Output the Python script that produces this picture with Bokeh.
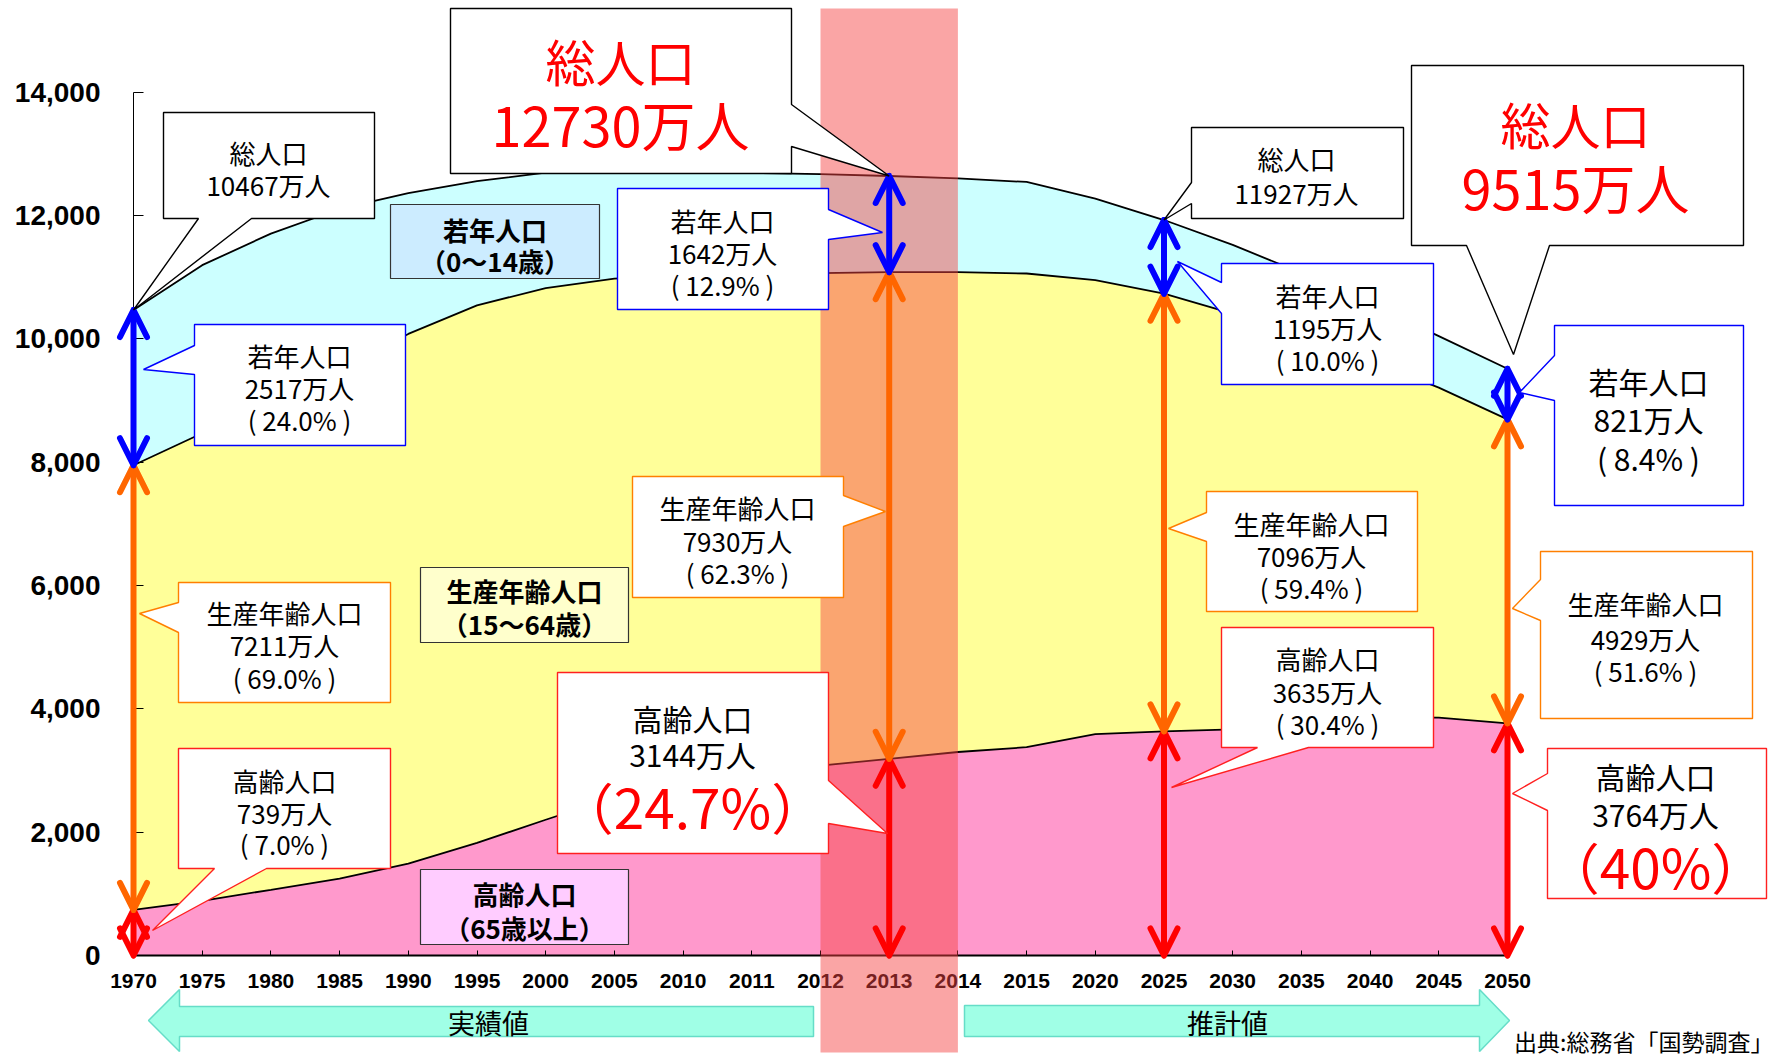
from bokeh.plotting import figure
from bokeh.models import (Range1d, FixedTicker, NumeralTickFormatter, Arrow, OpenHead,
                          BoxAnnotation, ColumnDataSource)
from bokeh.core.properties import value
from bokeh.embed import file_html
from bokeh.resources import INLINE

# ---------------- data (万人) ----------------
years = ["1970", "1975", "1980", "1985", "1990", "1995", "2000", "2005", "2010", "2011",
         "2012", "2013", "2014", "2015", "2020", "2025", "2030", "2035", "2040", "2045", "2050"]
aged = [739, 887, 1065, 1247, 1489, 1826, 2201, 2567, 2925, 2975,
        3079, 3190, 3300, 3378, 3590, 3635, 3667, 3725, 3863, 3856, 3764]
working = [7211, 7581, 7883, 8251, 8590, 8716, 8622, 8409, 8103, 8070,
           7985, 7890, 7780, 7681, 7363, 7096, 6740, 6292, 5787, 5353, 4929]
young = [2517, 2726, 2758, 2607, 2282, 2015, 1870, 1724, 1672, 1645,
         1606, 1560, 1520, 1484, 1321, 1195, 1115, 1051, 920, 835, 821]
y_ticks = [0, 2000, 4000, 6000, 8000, 10000, 12000, 14000]
highlight_year = "2013"
arrow_years = ["1970", "2013", "2025", "2050"]

FONT = "Noto Sans CJK JP"
LATIN = "Liberation Sans"

# ---------------- layout helpers (page pixel -> data) ----------------
W, H = 1779, 1060
X0, DX, Y0, KY = 133.0, 68.7, 955.0, 0.06167


def dx(px):
    return (px - X0) / DX


def dy(py):
    return (Y0 - py) / KY


def page_pt(i, v):
    return (X0 + i * DX, Y0 - v * KY)


n = len(years)
xs = list(range(n))
bound = [a + w for a, w in zip(aged, working)]
total = [b + y for b, y in zip(bound, young)]

src = ColumnDataSource(dict(x=xs, aged=aged, working=working, young=young))

p = figure(width=W, height=H,
           x_range=Range1d(dx(0), dx(W)), y_range=Range1d(dy(H), dy(0)),
           output_backend="svg", toolbar_location=None, min_border=0)
p.title.visible = False
p.outline_line_color = None
p.background_fill_color = "white"
p.border_fill_color = "white"
p.xgrid.visible = False
p.ygrid.visible = False

# stacked areas + boundary lines
p.varea_stack(["aged", "working", "young"], x="x", source=src,
              color=["#FF99CC", "#FFFF99", "#CCFFFF"])
p.vline_stack(["aged", "working", "young"], x="x", source=src,
              line_color="black", line_width=1.8)

# axes (drawn at data zero)
xa = p.xaxis[0]
xa.fixed_location = 0
xa.bounds = (0, n - 1)
xa.ticker = FixedTicker(ticks=xs)
xa.major_label_overrides = {i: y for i, y in enumerate(years)}
xa.major_label_text_font = LATIN
xa.major_label_text_font_style = "bold"
xa.major_label_text_font_size = "21px"
xa.major_label_text_color = "black"
xa.major_label_standoff = 18
xa.axis_line_width = 2
xa.axis_line_color = "black"
xa.major_tick_in = 5
xa.major_tick_out = 0
xa.minor_tick_line_color = None

ya = p.yaxis[0]
ya.fixed_location = 0
ya.bounds = (0, 14000)
ya.ticker = FixedTicker(ticks=y_ticks)
ya.formatter = NumeralTickFormatter(format="0,0")
ya.major_label_text_font = LATIN
ya.major_label_text_font_style = "bold"
ya.major_label_text_font_size = "28px"
ya.major_label_text_color = "black"
ya.major_label_standoff = 33
ya.axis_line_color = "black"
ya.axis_line_width = 1
ya.major_tick_in = 10
ya.major_tick_out = 0
ya.minor_tick_line_color = None

# highlighted year band
hi = years.index(highlight_year)
p.add_layout(BoxAnnotation(left=hi - 1, right=hi + 1, top=dy(8), bottom=dy(1052),
                           fill_color="#F54343", fill_alpha=0.48,
                           line_color=None, level="annotation"))

# double-headed arrows
ai = [years.index(y) for y in arrow_years]


def arrows(lo, hi_, color):
    s = ColumnDataSource(dict(x=[i for i in ai], y0=[lo[i] for i in ai], y1=[hi_[i] for i in ai]))
    head = dict(size=27, line_color=color, line_width=6, line_cap="round", line_join="round")
    p.add_layout(Arrow(x_start="x", y_start="y0", x_end="x", y_end="y1", source=s,
                       line_color=color, line_width=6, line_cap="round",
                       start=OpenHead(**head), end=OpenHead(**head), level="annotation"))


arrows([0] * n, aged, "#FF0000")
arrows(aged, bound, "#FF6600")
arrows(bound, total, "#0000FF")


# ---------------- callouts ----------------
def callout(box, edge, w1, w2, tip, color, lines, lw=1.4):
    l, t, r, b = box
    if edge == "left":
        pts = [(l, t), (r, t), (r, b), (l, b), (l, w2), tip, (l, w1)]
    elif edge == "right":
        pts = [(l, t), (r, t), (r, w1), tip, (r, w2), (r, b), (l, b)]
    else:  # bottom
        pts = [(l, t), (r, t), (r, b), (w2, b), tip, (w1, b), (l, b)]
    p.patch([dx(q[0]) for q in pts], [dy(q[1]) for q in pts], fill_color="white",
            line_color=color, line_width=lw, level="overlay")
    for cx, cy, txt, size, col in lines:
        p.text(x=[dx(cx)], y=[dy(cy)], text=[txt], text_font=value(FONT),
               text_font_size=f"{size}px", text_color=col, text_align="center",
               text_baseline="middle", level="overlay")


BLK, BLU, ORG, RED = "#000000", "#0000FF", "#FF7F00", "#FF2020"
S = 26
i70, i13, i25, i50 = ai

callout((163, 112, 374, 218), "bottom", 198, 251, page_pt(i70, total[i70]), BLK,
        [(268, 152, "総人口", S, "black"), (268, 184, "10467万人", S, "black")])
callout((194, 324, 405, 445), "left", 345, 374, (143, 369), BLU,
        [(299, 355, "若年人口", S, "black"), (299, 387, "2517万人", S, "black"),
         (299, 419, "( 24.0% )", S, "black")])
callout((178, 582, 390, 702), "left", 602, 632, (139, 613), ORG,
        [(284, 612, "生産年齢人口", S, "black"), (284, 644, "7211万人", S, "black"),
         (284, 677, "( 69.0% )", S, "black")])
callout((178, 748, 390, 868), "bottom", 214, 266, (152, 930), RED,
        [(284, 780, "高齢人口", S, "black"), (284, 812, "739万人", S, "black"),
         (284, 843, "( 7.0% )", S, "black")])

callout((450, 8, 791, 173), "right", 104, 146, page_pt(i13, total[i13]), BLK,
        [(620, 59, "総人口", 50, "#FF0000"), (620, 123, "12730万人", 54, "#FF0000")])
callout((617, 188, 828, 309), "right", 209, 239, (882, 232), BLU,
        [(722, 220, "若年人口", S, "black"), (722, 252, "1642万人", S, "black"),
         (722, 284, "( 12.9% )", S, "black")])
callout((632, 476, 843, 597), "right", 495, 526, (885, 511), ORG,
        [(737, 507, "生産年齢人口", S, "black"), (737, 540, "7930万人", S, "black"),
         (737, 572, "( 62.3% )", S, "black")])
callout((557, 672, 828, 853), "right", 780, 823, (887, 833), RED,
        [(692, 717, "高齢人口", 30, "black"), (692, 753, "3144万人", 30, "black"),
         (692, 804, "（24.7%）", 55, "#FF0000")])

callout((1191, 127, 1403, 218), "left", 182, 203, page_pt(i25, total[i25]), BLK,
        [(1296, 158, "総人口", S, "black"), (1296, 192, "11927万人", S, "black")])
callout((1221, 263, 1433, 384), "left", 282, 313, (1177, 261), BLU,
        [(1327, 295, "若年人口", S, "black"), (1327, 327, "1195万人", S, "black"),
         (1327, 359, "( 10.0% )", S, "black")])
callout((1206, 491, 1417, 611), "left", 512, 541, (1168, 528), ORG,
        [(1311, 523, "生産年齢人口", S, "black"), (1311, 555, "7096万人", S, "black"),
         (1311, 587, "( 59.4% )", S, "black")])
callout((1221, 627, 1433, 747), "bottom", 1257, 1308, (1171, 787), RED,
        [(1327, 658, "高齢人口", S, "black"), (1327, 691, "3635万人", S, "black"),
         (1327, 723, "( 30.4% )", S, "black")])

callout((1411, 65, 1743, 245), "bottom", 1466, 1549, (1513, 354), BLK,
        [(1575, 122, "総人口", 50, "#FF0000"), (1575, 186, "9515万人", 54, "#FF0000")])
callout((1554, 325, 1743, 505), "left", 355, 400, (1519, 392), BLU,
        [(1648, 380, "若年人口", 30, "black"), (1648, 418, "821万人", 30, "black"),
         (1648, 457, "( 8.4% )", 30, "black")])
callout((1540, 551, 1752, 718), "left", 579, 620, (1512, 608), ORG,
        [(1645, 603, "生産年齢人口", S, "black"), (1645, 638, "4929万人", S, "black"),
         (1645, 670, "( 51.6% )", S, "black")])
callout((1547, 748, 1766, 898), "left", 773, 810, (1512, 793), RED,
        [(1655, 775, "高齢人口", 30, "black"), (1655, 813, "3764万人", 30, "black"),
         (1655, 864, "（40%）", 55, "#FF0000")])


# ---------------- category label boxes ----------------
def tag(box, bg, lines):
    l, t, r, b = box
    p.quad(left=[dx(l)], right=[dx(r)], top=[dy(t)], bottom=[dy(b)], fill_color=bg,
           line_color="#333333", line_width=1.2, level="overlay")
    cx = (l + r) / 2
    for cy, txt in lines:
        p.text(x=[dx(cx)], y=[dy(cy)], text=[txt], text_font=value(FONT), text_font_size="26px",
               text_font_style="bold", text_color="black", text_align="center",
               text_baseline="middle", level="overlay")


tag((390, 204, 599, 278), "#CCECFF", [(229, "若年人口"), (260, "（0〜14歳）")])
tag((420, 567, 628, 642), "#FFFFCC", [(590, "生産年齢人口"), (623, "（15〜64歳）")])
tag((420, 869, 628, 944), "#FFCCFF", [(893, "高齢人口"), (927, "（65歳以上）")])

# ---------------- period arrows & source ----------------
left_arrow = [(148, 1020), (179, 989), (179, 1006), (813, 1006), (813, 1036), (179, 1036), (179, 1051)]
right_arrow = [(964, 1005), (1479, 1005), (1479, 989), (1509, 1020), (1479, 1051), (1479, 1036), (964, 1036)]
for shape, label, cx in [(left_arrow, "実績値", 488), (right_arrow, "推計値", 1227)]:
    p.patch([dx(q[0]) for q in shape], [dy(q[1]) for q in shape], fill_color="#A0FFE6",
            line_color="#66DDC8", line_width=1.5, level="overlay")
    p.text(x=[dx(cx)], y=[dy(1022)], text=[label], text_font=value(FONT), text_font_size="27px",
           text_color="black", text_align="center", text_baseline="middle", level="overlay")

p.text(x=[dx(1773)], y=[dy(1040)], text=["出典:総務省「国勢調査」"], text_font=value(FONT),
       text_font_size="23px", text_color="black", text_align="right", text_baseline="middle",
       level="overlay")

open("out.html", "w").write(file_html(p, INLINE))
